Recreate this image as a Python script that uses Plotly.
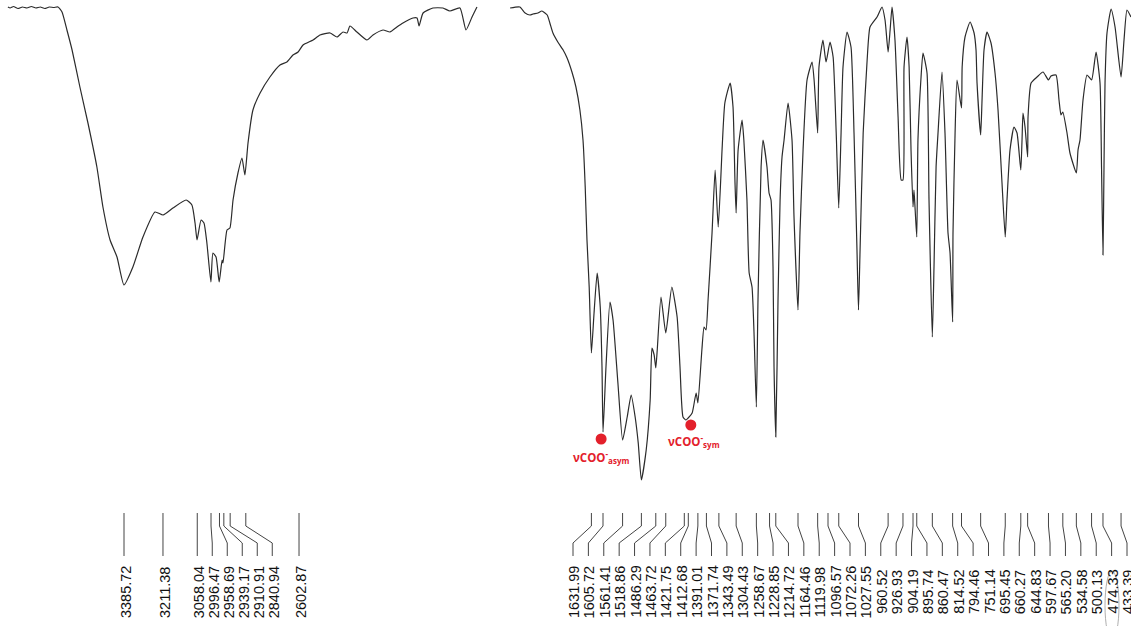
import numpy as np
import plotly.graph_objects as go

# ---------------- data (wavenumber cm-1, transmittance %) ----------------
left_wn = [3905, 3895, 3880, 3860, 3840, 3820, 3800, 3780, 3760, 3740, 3720, 3700, 3681,
           3663, 3641, 3618, 3583, 3547, 3507, 3480, 3448, 3417, 3386, 3346, 3301, 3247,
           3211, 3167, 3108, 3082, 3068, 3059, 3041, 3028, 3015, 2997, 2988, 2974, 2960,
           2947, 2943, 2925, 2912, 2898, 2876, 2858, 2845, 2831, 2809, 2777, 2733, 2688,
           2657, 2630, 2607, 2585, 2540, 2509, 2464, 2433, 2406, 2388, 2375, 2344, 2299,
           2272, 2227, 2196, 2165, 2138, 2093, 2075, 2066, 2048, 2004, 1959, 1928, 1883,
           1856, 1829, 1807]
left_T = [99.6, 99.4, 99.7, 99.3, 99.6, 99.4, 99.7, 99.4, 99.6, 99.3, 99.6, 99.5, 99.6,
          98.6, 95.0, 91.0, 83.6, 76.4, 67.6, 59.6, 53.0, 49.6, 44.0, 47.6, 53.6, 58.6,
          58.0, 59.4, 61.0, 60.0, 56.4, 53.0, 57.0, 56.4, 52.4, 44.6, 50.4, 49.6, 44.6,
          49.0, 48.4, 55.0, 55.4, 61.0, 66.4, 69.4, 66.0, 72.4, 79.0, 82.4, 85.6, 88.0,
          88.6, 90.0, 90.6, 92.0, 93.0, 94.0, 94.4, 93.6, 94.6, 94.4, 95.8, 94.6, 93.0,
          94.0, 95.0, 94.6, 95.6, 96.4, 97.4, 97.4, 95.8, 98.4, 99.4, 99.4, 98.8, 99.4,
          95.0, 97.6, 99.6]

right_wn = [1816, 1794, 1782, 1771, 1764, 1753, 1744, 1732, 1726, 1719, 1708, 1696, 1687,
            1676, 1667, 1658, 1651, 1646, 1642, 1637, 1632, 1626, 1619, 1612, 1608, 1605.7,
            1599, 1590, 1583, 1572, 1561.4, 1551, 1542, 1533, 1526, 1518.9, 1508, 1499,
            1495, 1490, 1486.3, 1483, 1474.5, 1463.7, 1450, 1438, 1431.5, 1424.7, 1418,
            1413, 1404, 1395, 1391, 1382, 1377, 1372.6, 1368, 1359, 1352, 1345, 1336, 1330,
            1318, 1311.5, 1307, 1304.5, 1300, 1291, 1287, 1280, 1275, 1268.5, 1264, 1258.7,
            1255, 1248, 1243.6, 1234.6, 1230, 1225.5, 1221, 1218.7, 1214.7, 1209.7, 1205,
            1200.6, 1196, 1187, 1178, 1173.5, 1164.5, 1160, 1153, 1144, 1132.7, 1128,
            1120, 1117, 1108, 1101, 1092, 1085, 1078, 1072.3, 1067, 1062.6, 1053.5, 1044.5,
            1037.7, 1031, 1027.6, 1024, 1017, 1008, 1001.5, 985.6, 974.3, 967.5, 960.5,
            956, 951.7, 945, 938, 931, 926.9, 924.5, 917.8, 913, 908.7, 904.2, 902, 899.7,
            895.7, 893, 886, 881.6, 872.5, 868, 860.5, 856.7, 852, 847.6, 838.6, 831.8, 825,
            820.4, 814.5, 813.7, 809, 804.6, 794.5, 793, 786.5, 775, 766, 761.6, 759.3,
            751.1, 748, 743.5, 736.7, 727.7, 718.6, 711.8, 702.8, 695.5, 691.5, 684.7,
            675.6, 668.8, 660.3, 657.5, 655.3, 650.7, 644.8, 643.9, 637, 623.6, 610, 597.7,
            592, 580.6, 573.8, 569.3, 565.2, 555.7, 549, 534.6, 530.8, 526.3, 519.5, 510.4,
            500.1, 490, 481, 477.6, 474.3, 472, 469.7, 465.2, 456, 447, 433.4, 426.7, 420,
            411]
right_T = [99.4, 99.6, 98.4, 98.0, 98.2, 98.4, 98.8, 98.0, 96.4, 94.4, 92.6, 91.0, 89.4,
           86.6, 83.6, 79.0, 73.0, 63.6, 53.0, 43.6, 30.4, 38.4, 46.4, 39.6, 27.6, 14.6,
           27.6, 40.6, 37.0, 24.4, 13.0, 17.6, 22.0, 17.6, 12.4, 5.0, 11.0, 21.0, 31.4,
           30.0, 27.4, 31.0, 41.6, 34.4, 43.6, 37.6, 27.6, 17.6, 17.0, 17.4, 18.4, 22.4,
           20.4, 31.0, 35.6, 35.0, 41.0, 54.4, 67.0, 55.6, 71.6, 80.4, 84.4, 79.6, 64.4,
           58.4, 71.0, 77.0, 73.0, 61.0, 46.4, 43.6, 34.4, 19.6, 41.0, 67.6, 73.0, 67.6,
           62.4, 61.0, 47.6, 27.6, 13.6, 41.0, 61.0, 69.6, 73.0, 80.4, 73.0, 57.6, 39.0,
           54.4, 71.0, 85.0, 88.6, 85.0, 74.4, 87.6, 93.0, 88.6, 92.6, 89.6, 74.4, 59.4,
           74.4, 87.6, 94.6, 91.6, 74.4, 51.0, 39.0, 51.0, 74.4, 89.0, 95.6, 97.6, 99.6,
           97.0, 90.6, 95.0, 99.6, 93.0, 77.6, 65.0, 65.0, 87.6, 93.6, 87.6, 71.0, 59.6,
           63.0, 59.6, 53.6, 73.0, 85.6, 90.4, 86.4, 61.0, 33.6, 47.6, 67.6, 74.4, 86.6,
           74.4, 54.4, 50.4, 36.6, 54.4, 74.4, 85.0, 79.4, 87.6, 93.6, 96.6, 94.4, 91.0,
           84.4, 74.0, 81.0, 91.0, 94.6, 92.4, 86.4, 79.0, 64.4, 53.6, 61.0, 71.0, 75.6,
           74.4, 67.0, 73.0, 78.4, 75.6, 69.6, 77.6, 84.4, 85.6, 86.6, 85.0, 85.8, 86.0,
           81.0, 78.0, 78.6, 74.4, 70.4, 66.4, 71.0, 73.0, 81.0, 86.0, 85.0, 90.6, 84.4,
           67.6, 50.0, 67.6, 84.4, 94.4, 99.2, 95.6, 85.6, 93.0, 99.0, 97.6]

left_peaks = [3385.72, 3211.38, 3058.04, 2996.47, 2958.69, 2939.17, 2910.91, 2840.94, 2602.87]
right_peaks = [1631.99, 1605.72, 1561.41, 1518.86, 1486.29, 1463.72, 1421.75, 1412.68,
               1391.01, 1371.74, 1343.49, 1304.43, 1258.67, 1228.85, 1214.72, 1164.46,
               1119.98, 1096.57, 1072.26, 1027.55, 960.52, 926.93, 904.19, 895.74, 860.47,
               814.52, 794.46, 751.14, 695.45, 660.27, 644.83, 597.67, 565.20, 534.58,
               500.13, 474.33, 433.39]

coo_labels = ["<b>νCOO<sup>-</sup><sub>asym</sub></b>", "<b>νCOO<sup>-</sup><sub>sym</sub></b>"]
coo_wn = [1610, 1407]
coo_T = [13.2, 16.0]

# ---------------- layout constants ----------------
W, H = 1131, 626
LEFT_PX = (0, 478)
RIGHT_PX = (510, 1131)
LEFT_RANGE = (3940.4, 1802.3)
RIGHT_RANGE = (1816.2, 410.9)
SPEC_BOTTOM_PX = 500


def px_to_wn(px, dom, rng):
    return rng[0] - (px - dom[0]) * (rng[0] - rng[1]) / (dom[1] - dom[0])


def wn_to_px(wn, dom, rng):
    return dom[0] + (rng[0] - wn) * (dom[1] - dom[0]) / (rng[0] - rng[1])


# label slots (pixel layout)
left_peak_px = [wn_to_px(w, LEFT_PX, LEFT_RANGE) for w in left_peaks]
left_slots_px = []
for p in left_peak_px:
    s = p if not left_slots_px else max(p, left_slots_px[-1] + 15.0)
    left_slots_px.append(s)
right_slots_px = list(np.linspace(573, 1127, len(right_peaks)))

left_slots = [px_to_wn(s, LEFT_PX, LEFT_RANGE) for s in left_slots_px]
right_slots = [px_to_wn(s, RIGHT_PX, RIGHT_RANGE) for s in right_slots_px]

Y_TOP, Y_B1, Y_B2, Y_BOT = 513, 526, 543, 556


def leaders(peaks, slots):
    xs, ys = [], []
    for p, s in zip(peaks, slots):
        xs += [p, p, s, s, None]
        ys += [Y_TOP, Y_B1, Y_B2, Y_BOT, None]
    return xs, ys


fig = go.Figure()
line_col = "#2b2b2b"
spec_line = dict(color=line_col, width=1.2, shape="spline", smoothing=0.5)
fig.add_trace(go.Scatter(x=left_wn, y=left_T, mode="lines", xaxis="x", yaxis="y",
                         line=spec_line, hoverinfo="skip"))
fig.add_trace(go.Scatter(x=right_wn, y=right_T, mode="lines", xaxis="x2", yaxis="y",
                         line=spec_line, hoverinfo="skip"))

lx, ly = leaders(left_peaks, left_slots)
rx, ry = leaders(right_peaks, right_slots)
fig.add_trace(go.Scatter(x=lx, y=ly, mode="lines", xaxis="x", yaxis="y3",
                         line=dict(color="#444", width=1), hoverinfo="skip"))
fig.add_trace(go.Scatter(x=rx, y=ry, mode="lines", xaxis="x2", yaxis="y3",
                         line=dict(color="#444", width=1), hoverinfo="skip"))

fig.add_trace(go.Scatter(x=coo_wn, y=coo_T, mode="markers", xaxis="x2", yaxis="y",
                         marker=dict(color="#e3202b", size=11), hoverinfo="skip"))

annotations = []
font_lbl = dict(family="Liberation Sans, Arial", size=14.5, color="#111")
for p, s in zip(left_peaks, left_slots):
    annotations.append(dict(x=s, y=592, xref="x", yref="y3", text=f"{p:.2f}",
                            textangle=-90, showarrow=False, font=font_lbl,
                            xanchor="center", yanchor="middle", xshift=2))
for p, s in zip(right_peaks, right_slots):
    annotations.append(dict(x=s, y=592, xref="x2", yref="y3", text=f"{p:.2f}",
                            textangle=-90, showarrow=False, font=font_lbl,
                            xanchor="center", yanchor="middle", xshift=1))
shifts = [(0, -18), (3, -16)]
for t, w, v, (dx, dy) in zip(coo_labels, coo_wn, coo_T, shifts):
    annotations.append(dict(x=w, y=v, xref="x2", yref="y", text=t, showarrow=False,
                            font=dict(family="Open Sans, Arial", size=11.5, color="#e3202b"),
                            xanchor="center", yanchor="middle", xshift=dx, yshift=dy))

ax_common = dict(visible=False, showgrid=False, zeroline=False, fixedrange=True)
fig.update_layout(
    width=W, height=H,
    margin=dict(l=0, r=0, t=0, b=0),
    paper_bgcolor="white", plot_bgcolor="white",
    showlegend=False,
    xaxis=dict(domain=[LEFT_PX[0] / W, LEFT_PX[1] / W], range=list(LEFT_RANGE),
               anchor="y", **ax_common),
    xaxis2=dict(domain=[RIGHT_PX[0] / W, RIGHT_PX[1] / W], range=list(RIGHT_RANGE),
                anchor="y", **ax_common),
    yaxis=dict(domain=[1 - SPEC_BOTTOM_PX / H, 1], range=[1, 101], anchor="x", **ax_common),
    yaxis3=dict(domain=[0, 1 - SPEC_BOTTOM_PX / H], range=[H, SPEC_BOTTOM_PX], anchor="x",
                **ax_common),
    annotations=annotations,
    shapes=[dict(type="circle", xref="paper", yref="paper",
                 x0=1105 / W, x1=1119 / W, y0=1 - 640 / H, y1=1 - 571 / H,
                 line=dict(color="#999", width=0.8))],
)

fig.write_html("out.html", config={"displayModeBar": False},
               post_script="document.body.style.margin='0px';")
